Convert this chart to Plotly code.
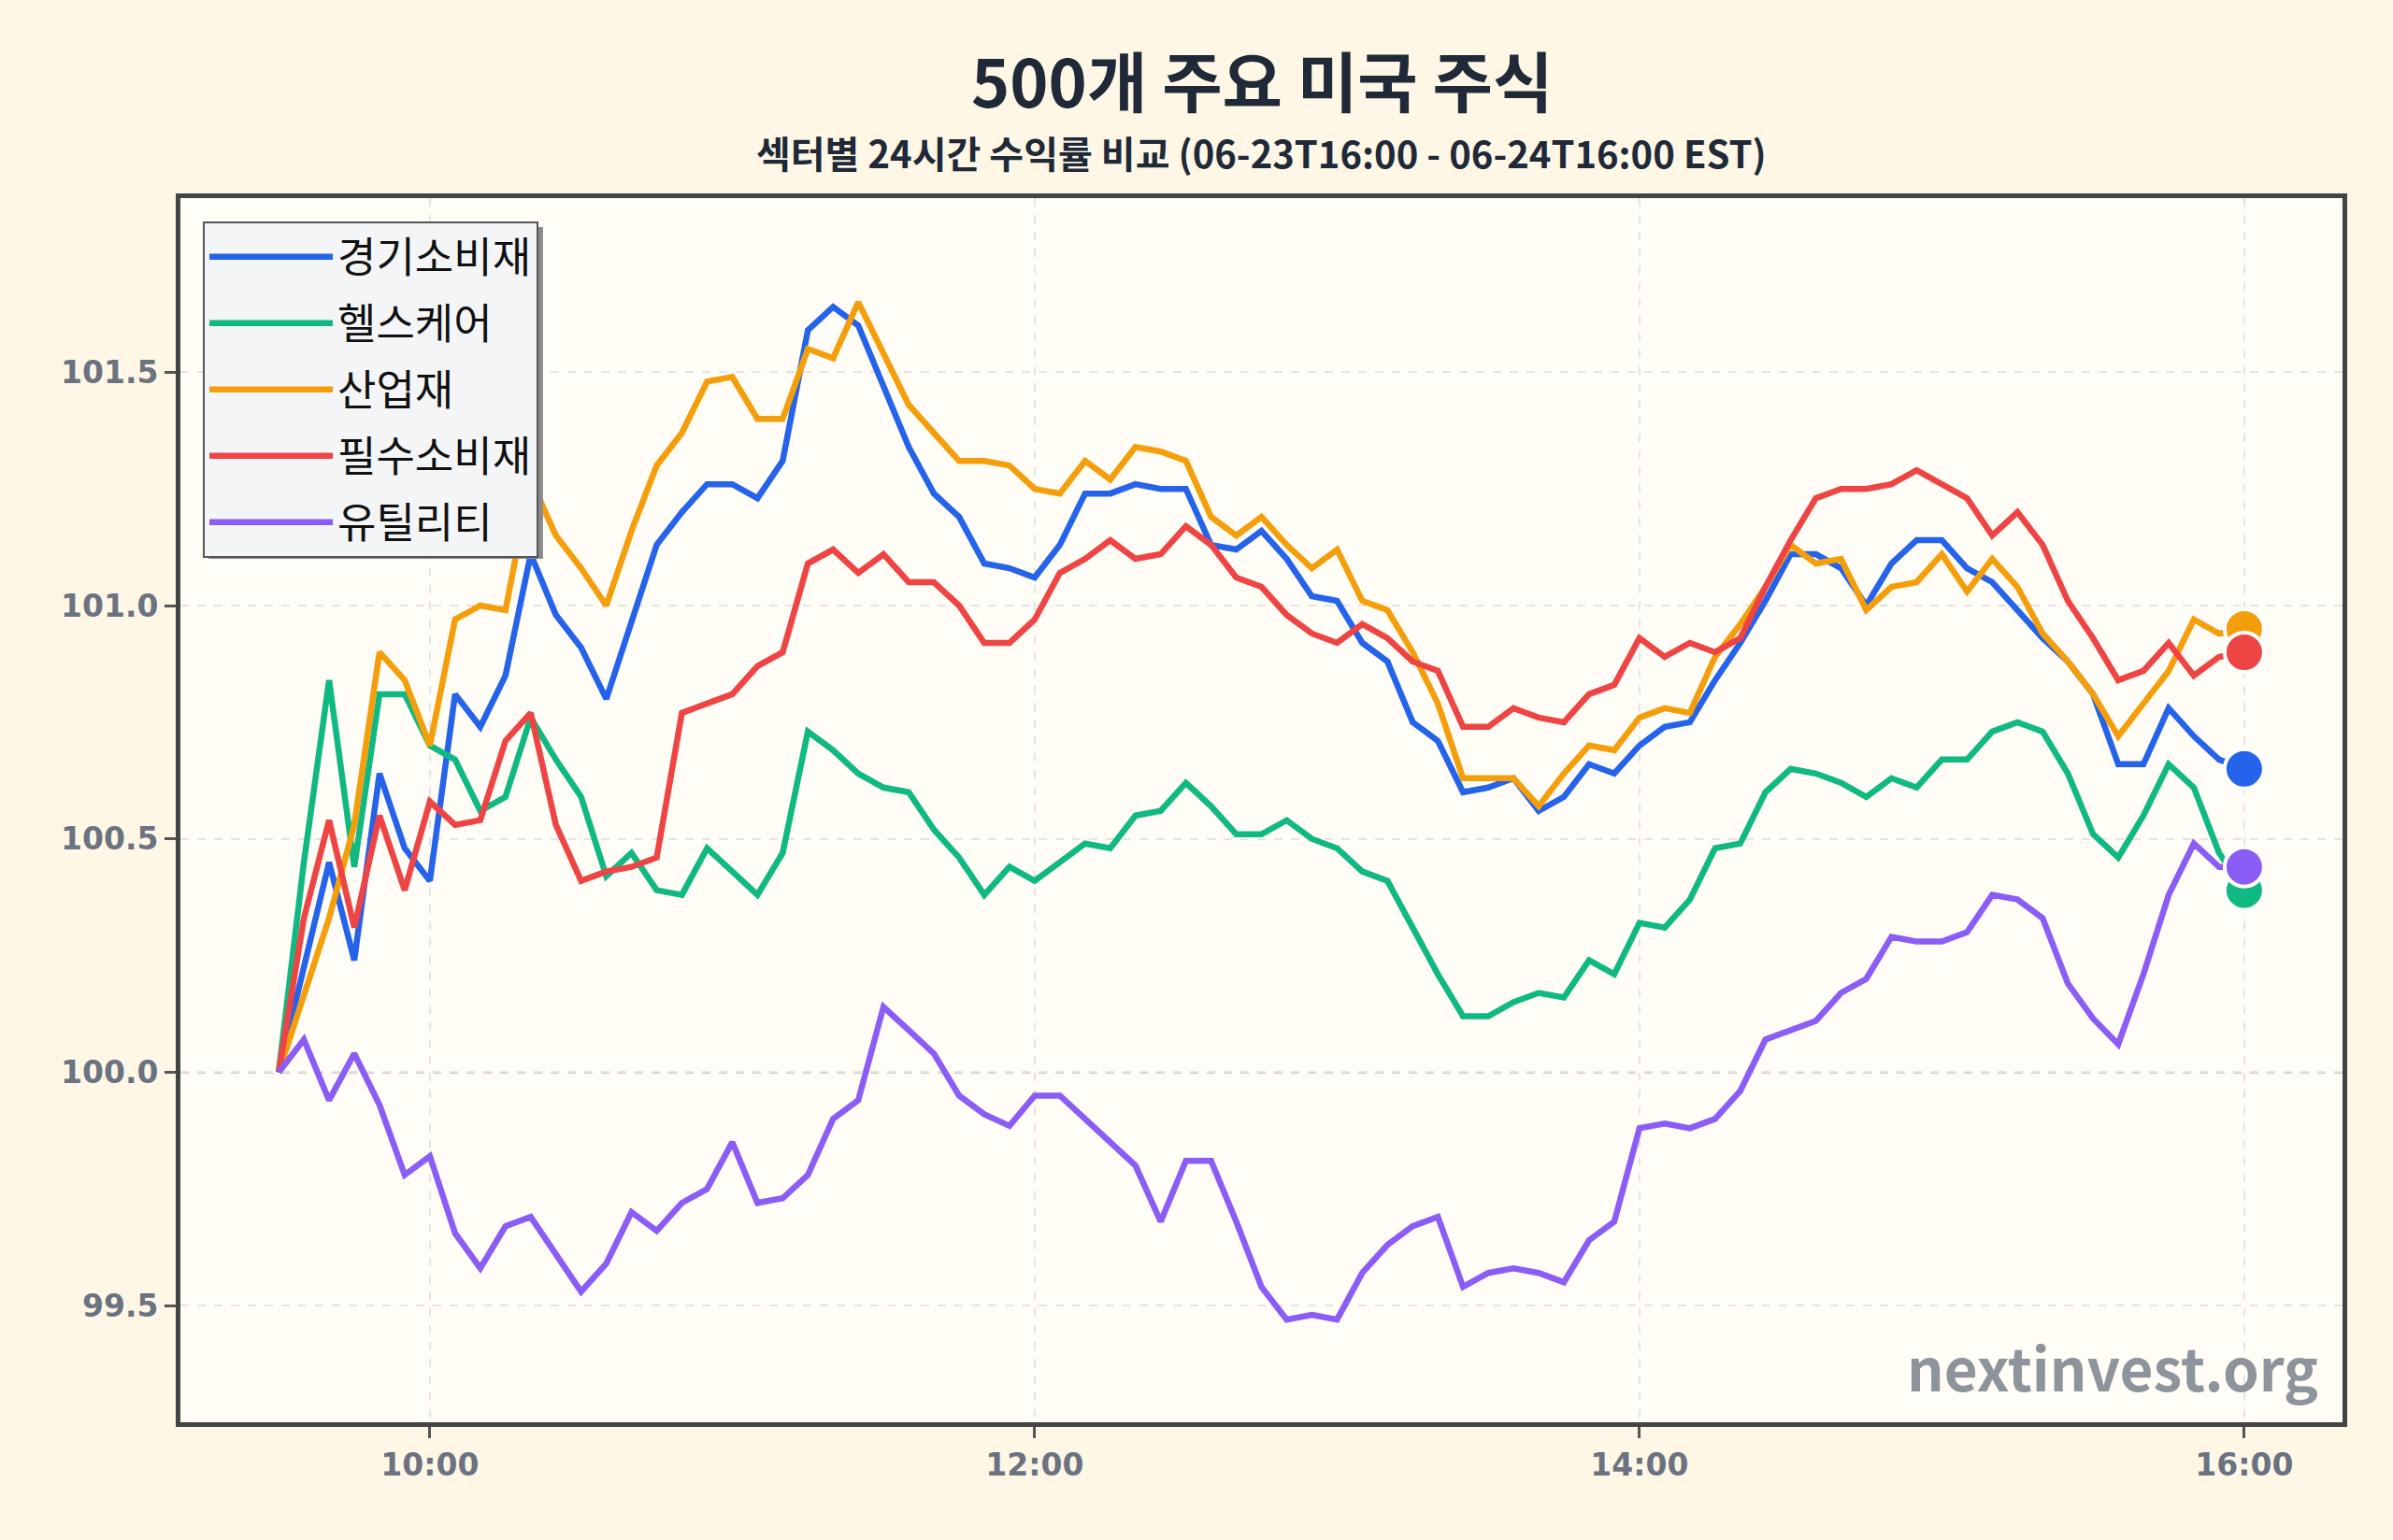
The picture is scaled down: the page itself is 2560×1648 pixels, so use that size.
import pandas as pd
import plotly.graph_objects as go

# ---- data ----
times = pd.date_range("2025-06-24 09:30", "2025-06-24 16:00", freq="5min")

series_names = ["경기소비재", "헬스케어", "산업재", "필수소비재", "유틸리티"]

consumer_disc = [100.00, 100.22, 100.45, 100.24, 100.64, 100.48, 100.41, 100.81, 100.74, 100.85,
                 101.11, 100.98, 100.91, 100.80, 100.97, 101.13, 101.20, 101.26, 101.26, 101.23,
                 101.31, 101.59, 101.64, 101.60, 101.47, 101.34, 101.24, 101.19, 101.09, 101.08,
                 101.06, 101.13, 101.24, 101.24, 101.26, 101.25, 101.25, 101.13, 101.12, 101.16,
                 101.10, 101.02, 101.01, 100.92, 100.88, 100.75, 100.71, 100.60, 100.61, 100.63,
                 100.56, 100.59, 100.66, 100.64, 100.70, 100.74, 100.75, 100.84, 100.92, 101.01,
                 101.11, 101.11, 101.08, 101.00, 101.09, 101.14, 101.14, 101.08, 101.05, 100.99,
                 100.93, 100.88, 100.81, 100.66, 100.66, 100.78, 100.72, 100.67, 100.65]

healthcare = [100.00, 100.45, 100.84, 100.44, 100.81, 100.81, 100.70, 100.67, 100.56, 100.59,
              100.76, 100.67, 100.59, 100.42, 100.47, 100.39, 100.38, 100.48, 100.43, 100.38,
              100.47, 100.73, 100.69, 100.64, 100.61, 100.60, 100.52, 100.46, 100.38, 100.44,
              100.41, 100.45, 100.49, 100.48, 100.55, 100.56, 100.62, 100.57, 100.51, 100.51,
              100.54, 100.50, 100.48, 100.43, 100.41, 100.31, 100.21, 100.12, 100.12, 100.15,
              100.17, 100.16, 100.24, 100.21, 100.32, 100.31, 100.37, 100.48, 100.49, 100.60,
              100.65, 100.64, 100.62, 100.59, 100.63, 100.61, 100.67, 100.67, 100.73, 100.75,
              100.73, 100.64, 100.51, 100.46, 100.55, 100.66, 100.61, 100.47, 100.39]

industrials = [100.00, 100.16, 100.33, 100.53, 100.90, 100.84, 100.70, 100.97, 101.00, 100.99,
               101.27, 101.15, 101.08, 101.00, 101.16, 101.30, 101.37, 101.48, 101.49, 101.40,
               101.40, 101.55, 101.53, 101.65, 101.54, 101.43, 101.37, 101.31, 101.31, 101.30,
               101.25, 101.24, 101.31, 101.27, 101.34, 101.33, 101.31, 101.19, 101.15, 101.19,
               101.13, 101.08, 101.12, 101.01, 100.99, 100.90, 100.79, 100.63, 100.63, 100.63,
               100.57, 100.64, 100.70, 100.69, 100.76, 100.78, 100.77, 100.89, 100.96, 101.04,
               101.13, 101.09, 101.10, 100.99, 101.04, 101.05, 101.11, 101.03, 101.10, 101.04,
               100.94, 100.88, 100.81, 100.72, 100.79, 100.86, 100.97, 100.94, 100.95]

consumer_staples = [100.00, 100.33, 100.54, 100.31, 100.55, 100.39, 100.58, 100.53, 100.54, 100.71,
                    100.77, 100.53, 100.41, 100.43, 100.44, 100.46, 100.77, 100.79, 100.81, 100.87,
                    100.90, 101.09, 101.12, 101.07, 101.11, 101.05, 101.05, 101.00, 100.92, 100.92,
                    100.97, 101.07, 101.10, 101.14, 101.10, 101.11, 101.17, 101.13, 101.06, 101.04,
                    100.98, 100.94, 100.92, 100.96, 100.93, 100.88, 100.86, 100.74, 100.74, 100.78,
                    100.76, 100.75, 100.81, 100.83, 100.93, 100.89, 100.92, 100.90, 100.93, 101.04,
                    101.14, 101.23, 101.25, 101.25, 101.26, 101.29, 101.26, 101.23, 101.15, 101.20,
                    101.13, 101.01, 100.93, 100.84, 100.86, 100.92, 100.85, 100.89, 100.90]

utilities = [100.00, 100.07, 99.94, 100.04, 99.93, 99.78, 99.82, 99.655, 99.58, 99.67,
             99.69, 99.61, 99.53, 99.59, 99.70, 99.66, 99.72, 99.75, 99.85, 99.72,
             99.73, 99.78, 99.90, 99.94, 100.14, 100.09, 100.04, 99.95, 99.91, 99.885,
             99.95, 99.95, 99.90, 99.85, 99.80, 99.68, 99.81, 99.81, 99.68, 99.54,
             99.47, 99.48, 99.47, 99.57, 99.63, 99.67, 99.69, 99.54, 99.57, 99.58,
             99.57, 99.55, 99.64, 99.68, 99.88, 99.89, 99.88, 99.90, 99.96, 100.07,
             100.09, 100.11, 100.17, 100.20, 100.29, 100.28, 100.28, 100.30, 100.38, 100.37,
             100.33, 100.19, 100.115, 100.06, 100.21, 100.38, 100.49, 100.44, 100.44]

x_tick_vals = ["2025-06-24 10:00", "2025-06-24 12:00", "2025-06-24 14:00", "2025-06-24 16:00"]
x_tick_text = ["10:00", "12:00", "14:00", "16:00"]
y_tick_vals = [99.5, 100.0, 100.5, 101.0, 101.5]
y_tick_text = ["99.5", "100.0", "100.5", "101.0", "101.5"]

title_text = "500개 주요 미국 주식"
subtitle_text = "섹터별 24시간 수익률 비교 (06-23T16:00 - 06-24T16:00 EST)"
watermark_text = "nextinvest.org"

# ---- style ----
colors = ["#2563EB", "#10B981", "#F59E0B", "#EF4444", "#8B5CF6"]
FONT = "Noto Sans CJK KR"
TICKFONT = "DejaVu Sans"
all_series = [consumer_disc, healthcare, industrials, consumer_staples, utilities]

fig = go.Figure()
for name, vals, col in zip(series_names, all_series, colors):
    fig.add_trace(go.Scatter(x=times, y=vals, mode="lines", name=name, legendgroup=name,
                             line=dict(color=col, width=6.5)))
for name, vals, col in zip(series_names, all_series, colors):
    fig.add_trace(go.Scatter(x=[times[-1]], y=[vals[-1]], mode="markers", showlegend=False,
                             legendgroup=name,
                             marker=dict(color=col, size=42, line=dict(color="white", width=4))))

# dashed reference line at 100
fig.add_shape(type="line", xref="paper", x0=0, x1=1, yref="y", y0=100, y1=100,
              line=dict(color="#BBBBBB", width=2.5, dash="dash"), layer="below")
# legend shadow
fig.add_shape(type="rect", xref="paper", yref="paper",
              x0=0.0130, x1=0.1677, y0=0.7053, y1=0.9763,
              fillcolor="#8A8A8A", line=dict(width=0), layer="above")

axis_common = dict(showline=True, mirror=True, linecolor="#444444", linewidth=5,
                   ticks="outside", ticklen=12, tickwidth=3, tickcolor="#555555",
                   showgrid=True, gridcolor="#E4E4E4", gridwidth=2, griddash="dash",
                   zeroline=False,
                   tickfont=dict(family=TICKFONT, size=33, color="#6B7280", weight="bold"))

fig.update_xaxes(**axis_common, range=["2025-06-24 09:10:30", "2025-06-24 16:19:30"],
                 tickmode="array", tickvals=x_tick_vals, ticktext=x_tick_text)
fig.update_yaxes(**axis_common, range=[99.25, 101.873],
                 tickmode="array", tickvals=y_tick_vals, ticktext=y_tick_text)

fig.update_layout(
    width=2560, height=1648,
    margin=dict(l=193, r=54, t=212, b=126),
    paper_bgcolor="#FEF7E6", plot_bgcolor="#FFFDF6",
    font=dict(family=FONT),
    showlegend=True,
    legend=dict(x=0.0104, y=0.981, xanchor="left", yanchor="top",
                bgcolor="#F4F5F7", bordercolor="#555555", borderwidth=2,
                font=dict(family=FONT, size=45, color="#111111"),
                itemwidth=132, tracegroupgap=9.5),
    annotations=[
        dict(text=title_text, xref="paper", yref="paper", x=0.5, y=1.097,
             xanchor="center", yanchor="middle", showarrow=False,
             font=dict(family=FONT, size=70, color="#1F2937", weight="bold")),
        dict(text=subtitle_text, xref="paper", yref="paper", x=0.5, y=1.0374,
             xanchor="center", yanchor="middle", showarrow=False,
             font=dict(family=FONT, size=40, color="#1F2937", weight="bold")),
        dict(text=watermark_text, xref="paper", yref="paper", x=0.9896, y=0.010,
             xanchor="right", yanchor="bottom", showarrow=False,
             font=dict(family=FONT, size=62, color="#8E949B", weight="bold")),
    ],
)

fig.write_html("out.html")
